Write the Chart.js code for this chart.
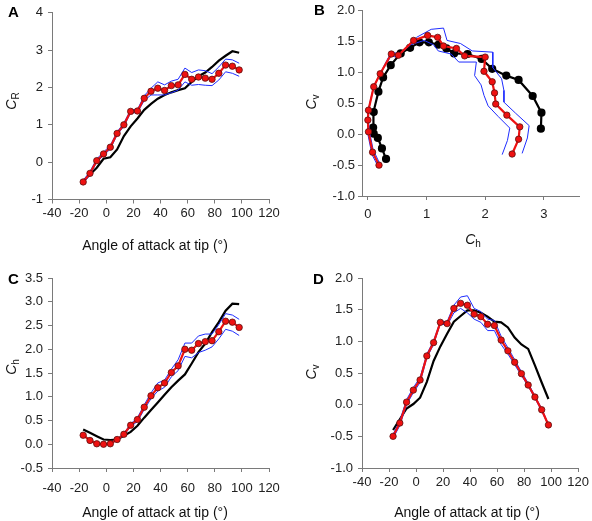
<!DOCTYPE html>
<html>
<head>
<meta charset="utf-8">
<script src="https://cdn.jsdelivr.net/npm/chart.js@4.4.1/dist/chart.umd.min.js"></script>
<style>
body{margin:0;background:#fff;font-family:"Liberation Sans",Arial,sans-serif;}
#wrap{position:relative;width:592px;height:521px;}
canvas{position:absolute;}
.panel{position:absolute;font-weight:bold;font-size:15px;color:#000;}
.ttl{position:absolute;font-size:14px;color:#111;white-space:nowrap;transform:translate(-50%,-50%);}
.rot{transform:translate(-50%,-50%) rotate(-90deg);}
.ttl sub{font-style:normal;font-size:10px;}
</style>
</head>
<body>
<div id="wrap">
<canvas id="chA" width="296" height="260" style="left:0;top:0"></canvas>
<canvas id="chB" width="296" height="260" style="left:296px;top:0"></canvas>
<canvas id="chC" width="296" height="261" style="left:0;top:260px"></canvas>
<canvas id="chD" width="296" height="261" style="left:296px;top:260px"></canvas>

<div class="panel" style="left:8px;top:3px">A</div>
<div class="panel" style="left:314px;top:1px">B</div>
<div class="panel" style="left:8px;top:270px">C</div>
<div class="panel" style="left:313px;top:270px">D</div>

<div class="ttl rot" style="left:12px;top:101px"><i>C</i><sub>R</sub></div>
<div class="ttl rot" style="left:312px;top:102px"><i>C</i><sub>v</sub></div>
<div class="ttl" style="left:473px;top:240px"><i>C</i><sub>h</sub></div>
<div class="ttl rot" style="left:12px;top:367px"><i>C</i><sub>h</sub></div>
<div class="ttl rot" style="left:312px;top:372px"><i>C</i><sub>v</sub></div>

<div class="ttl" style="left:155px;top:245px">Angle of attack at tip (°)</div>
<div class="ttl" style="left:155px;top:512px">Angle of attack at tip (°)</div>
<div class="ttl" style="left:467px;top:512px">Angle of attack at tip (°)</div>
</div>

<script>
// data
let angle=[-17,-12,-7,-2,3,8,13,18,23,28,33,38,43,48,53,58,63,68,73,78,83,88,93,98];

let crMean=[-0.53,-0.30,0.04,0.22,0.40,0.77,1.00,1.36,1.37,1.71,1.90,1.98,1.92,2.05,2.07,2.35,2.22,2.28,2.25,2.22,2.38,2.60,2.57,2.47];
let crUpper=[-0.49,-0.25,0.09,0.27,0.45,0.81,1.05,1.40,1.41,1.78,1.98,2.15,2.07,2.17,2.22,2.52,2.40,2.47,2.45,2.37,2.55,2.76,2.74,2.65];
let crLower=[-0.57,-0.34,0.00,0.18,0.35,0.73,0.96,1.32,1.33,1.65,1.80,1.80,1.80,1.86,1.93,2.15,2.06,2.08,2.06,2.05,2.20,2.42,2.38,2.30];
let crModel=[-0.50,-0.33,-0.15,0.09,0.13,0.34,0.70,0.96,1.17,1.40,1.56,1.70,1.80,1.87,1.93,1.98,2.15,2.30,2.40,2.55,2.72,2.85,2.97,2.93];

let chMean=[0.19,0.08,0.01,0.00,0.01,0.10,0.21,0.40,0.52,0.78,1.02,1.19,1.29,1.51,1.65,2.00,1.98,2.12,2.16,2.18,2.37,2.59,2.57,2.46];
let chUpper=[0.20,0.09,0.02,0.01,0.02,0.11,0.23,0.43,0.56,0.83,1.08,1.29,1.35,1.58,1.78,2.13,2.13,2.28,2.32,2.32,2.52,2.75,2.72,2.63];
let chLower=[0.18,0.07,0.00,-0.01,0.00,0.09,0.19,0.37,0.48,0.73,0.96,1.12,1.20,1.42,1.55,1.85,1.82,1.93,1.98,2.05,2.22,2.42,2.38,2.29];
let chModel=[0.31,0.24,0.17,0.10,0.09,0.10,0.18,0.26,0.39,0.56,0.72,0.88,1.04,1.20,1.34,1.47,1.70,1.94,2.12,2.36,2.57,2.81,2.96,2.95];

let cvMean=[-0.50,-0.29,0.04,0.23,0.39,0.77,0.98,1.30,1.28,1.52,1.60,1.57,1.43,1.39,1.27,1.25,1.02,0.85,0.67,0.49,0.31,0.12,-0.08,-0.32];
let cvUpper=[-0.47,-0.25,0.08,0.27,0.43,0.80,1.01,1.32,1.31,1.57,1.70,1.72,1.52,1.47,1.35,1.33,1.08,0.90,0.71,0.52,0.34,0.14,-0.06,-0.31];
let cvLower=[-0.53,-0.33,0.00,0.19,0.35,0.74,0.95,1.28,1.25,1.45,1.52,1.45,1.35,1.30,1.17,1.17,0.95,0.80,0.63,0.46,0.29,0.10,-0.10,-0.33];
let cvModel=[-0.40,-0.23,-0.06,0.01,0.11,0.36,0.69,0.92,1.12,1.31,1.40,1.49,1.49,1.45,1.39,1.31,1.30,1.22,1.06,0.95,0.88,0.62,0.35,0.09];

let chTicksB=[0,1,2,3];

const RED='#ee1111', BLUE='#1e2cff', AXIS='#7a7a7a';

function pts(xs,ys){
    return xs.map((x,i)=>({x:x,y:ys[i]}));
}

function redSet(data){
    return {data:data,borderColor:RED,borderWidth:2.2,pointRadius:3.2,
        pointBackgroundColor:RED,pointBorderColor:'#5a1010',pointBorderWidth:0.8};
}
function blueSet(data){
    return {data:data,borderColor:BLUE,borderWidth:1,pointRadius:0};
}
function blackSet(data,dots){
    return {data:data,borderColor:'#000',borderWidth:2.2,pointRadius:dots?3:0,
        pointBackgroundColor:'#000',pointBorderColor:'#000'};
}

function makePanel(id,o){
    new Chart(document.getElementById(id),{
        type:'scatter',
        data:{datasets:o.datasets.map(d=>Object.assign({showLine:true,tension:0},d))},
        options:{
            responsive:false,
            animation:false,
            layout:{padding:{top:o.top,right:o.right,left:0,bottom:0}},
            plugins:{legend:{display:false},tooltip:{enabled:false}},
            scales:{
                x:{
                    min:o.xMin,max:o.xMax,
                    afterFit:function(s){s.height=o.xH;},
                    afterBuildTicks:o.xTicks?function(s){s.ticks=o.xTicks.map(v=>({value:v}));}:undefined,
                    ticks:{stepSize:o.xStep,autoSkip:false,maxRotation:0,padding:o.xPad,color:'#222',
                        font:{size:13,family:'"Liberation Sans", Arial, sans-serif'}},
                    grid:{drawOnChartArea:false,tickLength:4,color:AXIS},
                    border:{color:AXIS}
                },
                y:{
                    min:o.yMin,max:o.yMax,
                    afterFit:function(s){s.width=o.yW;},
                    ticks:{stepSize:o.yStep,autoSkip:false,padding:o.yPad,color:'#222',
                        font:{size:13,family:'"Liberation Sans", Arial, sans-serif'},
                        callback:function(v){return o.yDec?v.toFixed(1):v;}},
                    grid:{drawOnChartArea:false,tickLength:4,color:AXIS},
                    border:{color:AXIS}
                }
            }
        }
    });
}

makePanel('chA',{top:10,right:27,yW:52,xH:60.5,xMin:-40,xMax:120,xStep:20,xPad:2,
    yMin:-1,yMax:4,yStep:1,yPad:5,yDec:false,
    datasets:[redSet(pts(angle,crMean)),blueSet(pts(angle,crUpper)),blueSet(pts(angle,crLower)),blackSet(pts(angle,crModel),false)]});

makePanel('chB',{top:7,right:13,yW:66,xH:64,xMin:-0.1,xMax:3.6,xTicks:chTicksB,xPad:7,
    yMin:-1,yMax:2,yStep:0.5,yPad:3,yDec:true,
    datasets:[redSet(pts(chMean,cvMean)),blueSet(pts(chUpper,cvUpper)),blueSet(pts(chLower,cvLower)),blackSet(pts(chModel,cvModel),true)]});

makePanel('chC',{top:18,right:27,yW:52,xH:53,xMin:-40,xMax:120,xStep:20,xPad:9,
    yMin:-0.5,yMax:3.5,yStep:0.5,yPad:5,yDec:true,
    datasets:[redSet(pts(angle,chMean)),blueSet(pts(angle,chUpper)),blueSet(pts(angle,chLower)),blackSet(pts(angle,chModel),false)]});

makePanel('chD',{top:18,right:13,yW:66,xH:53,xMin:-40,xMax:120,xStep:20,xPad:3,
    yMin:-1,yMax:2,yStep:0.5,yPad:5,yDec:true,
    datasets:[redSet(pts(angle,cvMean)),blueSet(pts(angle,cvUpper)),blueSet(pts(angle,cvLower)),blackSet(pts(angle,cvModel),false)]});
</script>
</body>
</html>
